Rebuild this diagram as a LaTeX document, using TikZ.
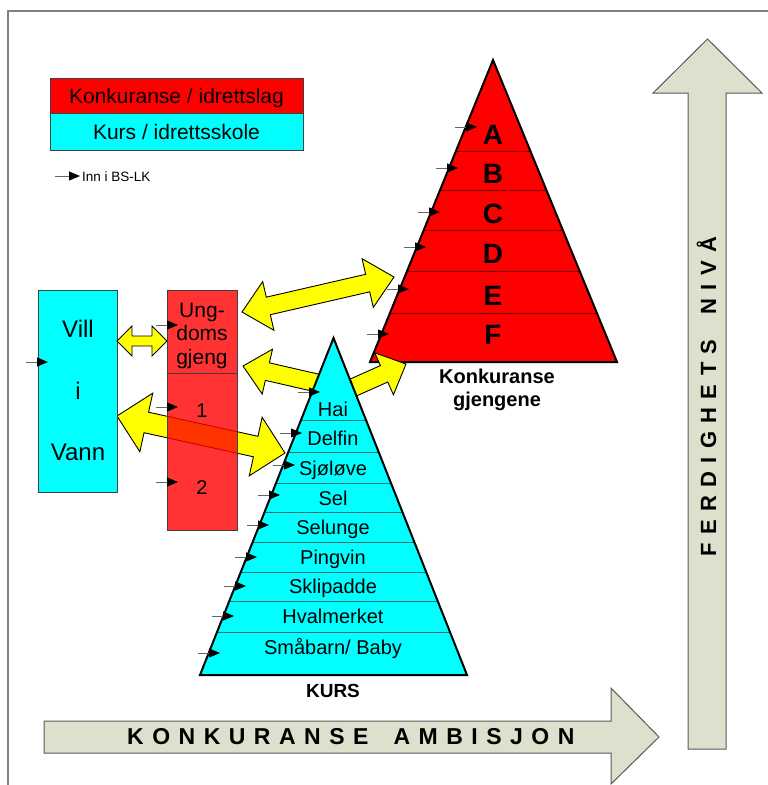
\documentclass[tikz,border=0pt]{standalone}
\usepackage{fontspec}
\setmainfont{Liberation Sans}
\usetikzlibrary{arrows.meta,calc}
\definecolor{gfill}{HTML}{DDE0CC}
\definecolor{myred}{HTML}{FF0000}
\definecolor{mycyan}{HTML}{00FFFF}
\definecolor{myyellow}{HTML}{FFFF00}
\definecolor{kband}{HTML}{2A6F6F}
\definecolor{rband}{HTML}{7A0000}
\newcommand\lsp{\hspace{8.5pt}}
\newcommand\lspv{\hspace{8.4pt}}
% block arrow: start x,y ; end x,y ; shaft width ; head width ; head length ; 1=single 2=double
\newcommand\blockarrow[8]{%
  \pgfmathsetmacro\bdx{#3-#1}%
  \pgfmathsetmacro\bdy{#4-#2}%
  \pgfmathsetmacro\bang{atan2(-\bdy,\bdx)}%
  \pgfmathsetmacro\blen{veclen(\bdx,\bdy)}%
  \pgfmathsetmacro\bs{#5/2}%
  \pgfmathsetmacro\bh{#6/2}%
  \pgfmathsetmacro\be{\blen-#7}%
  \begin{scope}[shift={(#1,#2)},rotate=\bang]
    \ifnum#8=2
      \draw[yarrow] (0,0) -- (#7,\bh) -- (#7,\bs) -- (\be,\bs) -- (\be,\bh) -- (\blen,0)
        -- (\be,-\bh) -- (\be,-\bs) -- (#7,-\bs) -- (#7,-\bh) -- cycle;
    \else
      \draw[yarrow] (0,\bs) -- (\be,\bs) -- (\be,\bh) -- (\blen,0)
        -- (\be,-\bh) -- (\be,-\bs) -- (0,-\bs) -- cycle;
    \fi
  \end{scope}}
\begin{document}
\begin{tikzpicture}[x=1pt,y=-1pt,
  yarrow/.style={fill=myyellow,draw=black,line width=0.9pt,line join=miter},
  grayarrow/.style={fill=gfill,draw=black!65,line width=1pt,line join=miter},
  smallarr/.style={draw=black!60,line width=0.9pt,-{Triangle[length=11pt,width=9pt,color=black]}},
  frameline/.style={draw=black!50,line width=1.2pt},
  txt/.style={inner sep=0pt,anchor=base},
  boxthin/.style={draw=black!75,line width=0.6pt,inner sep=0pt},
]
\useasboundingbox (0,0) rectangle (768,785);

% frame
\draw[frameline] (768,11) -- (8,11) -- (8,785);

% big gray arrows
\draw[grayarrow] (44,721) -- (611,721) -- (611,688) -- (659,737) -- (611,784) -- (611,753) -- (44,753) -- cycle;
\draw[grayarrow] (688,749) -- (688,93) -- (653,93) -- (707.5,39) -- (762,93) -- (726,93) -- (726,749) -- cycle;
\node[txt,anchor=base west,font=\fontsize{23}{26}\selectfont\bfseries] (ambisjon) at (127,744)
  {K\lsp O\lsp N\lsp K\lsp U\lsp R\lsp A\lsp N\lsp S\lsp E\hspace{25pt}A\lsp M\lsp B\lsp I\lsp S\lsp J\lsp O\lsp N};
\node[txt,anchor=base west,rotate=90,font=\fontsize{22}{26}\selectfont\bfseries] (niva) at (716,557)
  {F\lspv E\lspv R\lspv D\lspv I\lspv G\lspv H\lspv E\lspv T\lspv S\hspace{25pt}N\lspv I\lspv V\lspv Å};

% red pyramid
\coordinate (rA) at (493,60); \coordinate (rL) at (370,362); \coordinate (rR) at (617,362);
\fill[myred] (rA) -- (rL) -- (rR) -- cycle;
\begin{scope}
  \clip (rA) -- (rL) -- (rR) -- cycle;
  \foreach \yy in {151,190,230,271,313} \draw[rband,line width=0.7pt] (360,\yy) -- (630,\yy);
\end{scope}
\draw[line width=2pt,line join=miter] (rA) -- (rL) -- (rR) -- cycle;
\foreach \t/\yy [count=\i] in {A/144,B/183,C/223,D/263,E/305,F/344}
  \node[txt,font=\fontsize{28}{30}\selectfont\bfseries] (r\i) at (493,\yy) {\t};
\node[txt,font=\fontsize{20}{24}\selectfont\bfseries] (kg1) at (497,383) {Konkuranse};
\node[txt,font=\fontsize{20}{24}\selectfont\bfseries] (kg2) at (497,406) {gjengene};

% yellow arrows behind the course pyramid
\blockarrow{242}{312}{394}{277}{18}{50}{27}{2}
\blockarrow{341}{393}{406}{364}{18}{46}{24}{1}
\blockarrow{330}{386}{243}{366}{18}{46}{25}{1}

% course pyramid
\coordinate (kA) at (333.5,338); \coordinate (kL) at (200,675); \coordinate (kR) at (467,675);
\fill[mycyan] (kA) -- (kL) -- (kR) -- cycle;
\begin{scope}
  \clip (kA) -- (kL) -- (kR) -- cycle;
  \foreach \yy in {420,452,483,512,542,572,601,632} \draw[kband,line width=0.7pt] (190,\yy) -- (480,\yy);
\end{scope}
\draw[line width=2pt,line join=miter] (kA) -- (kL) -- (kR) -- cycle;
\foreach \t/\yy [count=\i] in {Hai/416,Delfin/445,Sjøløve/475,Sel/505,Selunge/534,Pingvin/564,Sklipadde/593,Hvalmerket/623,{Småbarn/ Baby}/654}
  \node[txt,font=\fontsize{20}{24}\selectfont] (k\i) at (333,\yy) {\t};
\node[txt,font=\fontsize{19}{22}\selectfont\bfseries] (kurs) at (333,697) {KURS};

% long yellow arrow Vill i Vann <-> Kurs
\blockarrow{117}{416}{285}{453}{21}{60}{30}{2}

% Vill i Vann
\node[boxthin,fill=mycyan,minimum width=79pt,minimum height=202pt] (vill) at (77.5,391) {};
\node[txt,font=\fontsize{24}{28}\selectfont] (v1) at (78,337) {Vill};
\node[txt,font=\fontsize{24}{28}\selectfont] (v2) at (78,399) {i};
\node[txt,font=\fontsize{24}{28}\selectfont] (v3) at (78,460) {Vann};

% small double arrow
\blockarrow{117}{341}{167}{341}{10}{30}{15}{2}

% Ungdomsgjeng box
\node[boxthin,fill=myred,fill opacity=0.8,minimum width=70pt,minimum height=240pt] (ung) at (202,410) {};
\draw[black!75,line width=0.6pt] (ung.west |- 0,373) -- (ung.east |- 0,373);
\node[txt,font=\fontsize{21}{24}\selectfont] (u1) at (202,317) {Ung-};
\node[txt,font=\fontsize{21}{24}\selectfont] (u2) at (202,340) {doms};
\node[txt,font=\fontsize{21}{24}\selectfont] (u3) at (202,364) {gjeng};
\node[txt,font=\fontsize{20}{24}\selectfont] (g1) at (202,417) {1};
\node[txt,font=\fontsize{20}{24}\selectfont] (g2) at (202,494) {2};

% legend
\node[boxthin,fill=myred,minimum width=253pt,minimum height=35pt] (legred) at (176.5,95.5) {};
\node[boxthin,fill=mycyan,minimum width=253pt,minimum height=37pt] (legcyan) at (176.5,131.5) {};
\node[txt,font=\fontsize{21}{24}\selectfont] (lt1) at (176.5,103) {Konkuranse / idrettslag};
\node[txt,font=\fontsize{21}{24}\selectfont] (lt2) at (176.5,139) {Kurs / idrettsskole};
\coordinate (legtip) at (80,176);
\node[txt,anchor=base west,font=\fontsize{13.5}{16}\selectfont] (lt3) at (82,181) {Inn i BS-LK};
\draw[smallarr] ($(legtip)+(-25,0)$) -- (legtip);

% small entry arrows
\foreach \x/\y [count=\i] in {320/392,302/433,295/465,280/495,269/525,257/557,246/586,234/616,220/653,
    477/127,458/168,440/212,426/247,409/289,389/334,
    178/325,178/407,178/482,48/362} {
  \coordinate (e\i) at (\x,\y);
  \draw[smallarr] ($(e\i)+(-22,0)$) -- (e\i);
}
\end{tikzpicture}
\end{document}
